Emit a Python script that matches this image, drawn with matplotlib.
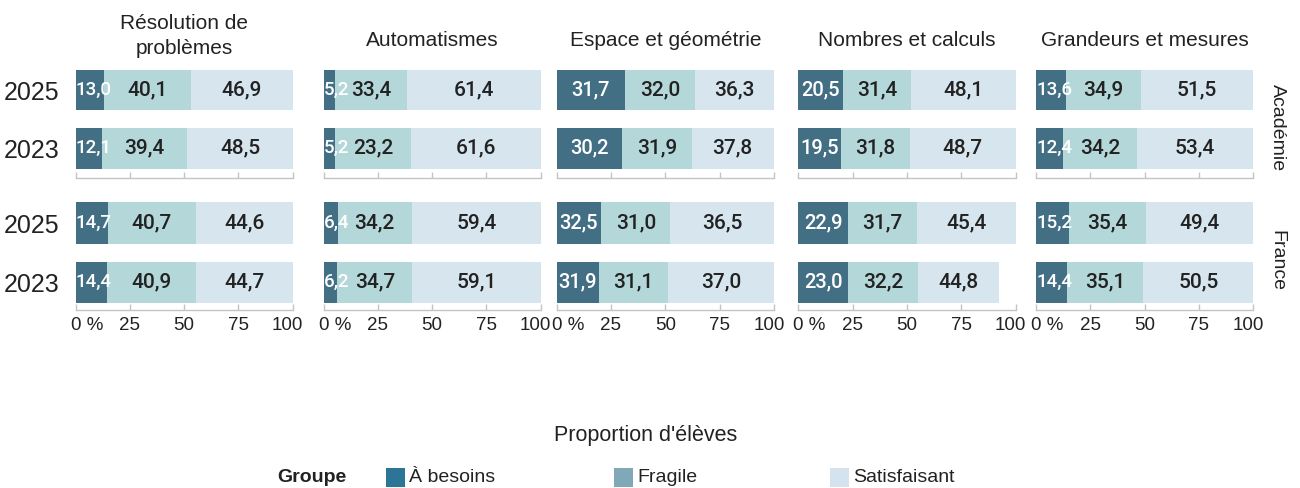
import matplotlib
matplotlib.use("Agg")
import matplotlib.pyplot as plt
import matplotlib.transforms as mtrans
from matplotlib import font_manager
from matplotlib.patches import Rectangle

# ---------------- data ----------------
themes = ["Résolution de\nproblèmes", "Automatismes", "Espace et géométrie",
          "Nombres et calculs", "Grandeurs et mesures"]
years = ["2025", "2023"]
scopes = ["Académie", "France"]
groups = ["À besoins", "Fragile", "Satisfaisant"]
x_ticks = [0, 25, 50, 75, 100]
x_tick_labels = ["0 %", "25", "50", "75", "100"]

# printed values (labels)
acad_2025_besoins = [13.0, 5.2, 31.7, 20.5, 13.6]
acad_2025_fragile = [40.1, 33.4, 32.0, 31.4, 34.9]
acad_2025_satisf = [46.9, 61.4, 36.3, 48.1, 51.5]
acad_2023_besoins = [12.1, 5.2, 30.2, 19.5, 12.4]
acad_2023_fragile = [39.4, 23.2, 31.9, 31.8, 34.2]
acad_2023_satisf = [48.5, 61.6, 37.8, 48.7, 53.4]
fr_2025_besoins = [14.7, 6.4, 32.5, 22.9, 15.2]
fr_2025_fragile = [40.7, 34.2, 31.0, 31.7, 35.4]
fr_2025_satisf = [44.6, 59.4, 36.5, 45.4, 49.4]
fr_2023_besoins = [14.4, 6.2, 31.9, 23.0, 14.4]
fr_2023_fragile = [40.9, 34.7, 31.1, 32.2, 35.1]
fr_2023_satisf = [44.7, 59.1, 37.0, 44.8, 50.5]

# bar lengths as drawn in the picture (a few differ from the printed values)
acad_2025_besoins_bar = [13.0, 5.2, 31.7, 20.5, 13.6]
acad_2025_fragile_bar = [40.1, 33.4, 32.0, 31.4, 34.9]
acad_2025_satisf_bar = [46.9, 61.4, 36.3, 48.1, 51.5]
acad_2023_besoins_bar = [12.1, 5.2, 30.2, 19.5, 12.4]
acad_2023_fragile_bar = [39.4, 35.0, 31.9, 31.8, 34.2]
acad_2023_satisf_bar = [48.5, 59.8, 37.8, 48.7, 53.4]
fr_2025_besoins_bar = [14.7, 6.4, 20.6, 22.9, 15.2]
fr_2025_fragile_bar = [40.7, 34.2, 31.7, 31.7, 35.4]
fr_2025_satisf_bar = [44.6, 59.4, 47.7, 45.4, 49.4]
fr_2023_besoins_bar = [14.4, 6.2, 19.6, 23.0, 14.4]
fr_2023_fragile_bar = [40.9, 34.7, 31.8, 32.2, 35.1]
fr_2023_satisf_bar = [44.7, 59.1, 48.6, 37.0, 50.5]

# ---------------- style ----------------
installed = {f.name for f in font_manager.fontManager.ttflist}
BASE = "Liberation Sans" if "Liberation Sans" in installed else "DejaVu Sans"
VALFONT = "Roboto" if "Roboto" in installed else BASE
plt.rcParams["font.family"] = [BASE, "DejaVu Sans"]

bar_colors = ["#436f85", "#b4d7d9", "#d7e5ee"]
legend_colors = ["#2c7596", "#80a8b6", "#d5e3ee"]
text_dark = "#222222"
axis_grey = "#c4c4c4"

W, H = 1300, 488
fig = plt.figure(figsize=(W / 100, H / 100), dpi=100)


def rect(x0, x1, ytop, ybot):
    return [x0 / W, 1 - ybot / H, (x1 - x0) / W, (ybot - ytop) / H]


panel_x = [(75.7, 292.7), (323.7, 540.7), (556.5, 774.0), (798.3, 1015.7), (1036.0, 1253.0)]
row_y = [(60.4, 178.0, 0.51), (195.3, 310.0, 0.47)]

rows_vals = [
    [(acad_2025_besoins, acad_2025_fragile, acad_2025_satisf),
     (acad_2023_besoins, acad_2023_fragile, acad_2023_satisf)],
    [(fr_2025_besoins, fr_2025_fragile, fr_2025_satisf),
     (fr_2023_besoins, fr_2023_fragile, fr_2023_satisf)],
]
rows_bars = [
    [(acad_2025_besoins_bar, acad_2025_fragile_bar, acad_2025_satisf_bar),
     (acad_2023_besoins_bar, acad_2023_fragile_bar, acad_2023_satisf_bar)],
    [(fr_2025_besoins_bar, fr_2025_fragile_bar, fr_2025_satisf_bar),
     (fr_2023_besoins_bar, fr_2023_fragile_bar, fr_2023_satisf_bar)],
]

year_pos = [1, 0]

for r, (ytop, ybot, m) in enumerate(row_y):
    for p, (x0, x1) in enumerate(panel_x):
        ax = fig.add_axes(rect(x0, x1, ytop, ybot))
        for k, yr in enumerate(years):
            vals = rows_vals[r][k]
            bars = rows_bars[r][k]
            left = 0.0
            for g in range(3):
                w = bars[g][p]
                ax.barh(year_pos[k], w, left=left, height=0.70,
                        color=bar_colors[g], linewidth=0)
                lab = f"{vals[g][p]:.1f}".replace(".", ",")
                if g == 0:
                    if w < 17:
                        ax.text(left + 0.1, year_pos[k], lab, ha="left", va="center",
                                color="white", fontsize=13.5, family=[VALFONT, BASE],
                                fontweight="medium")
                    else:
                        ax.text(left + w / 2, year_pos[k], lab, ha="center", va="center",
                                color="white", fontsize=14.5, family=[VALFONT, BASE],
                                fontweight="medium")
                else:
                    ax.text(left + w / 2, year_pos[k], lab, ha="center", va="center",
                            color=text_dark, fontsize=15, family=[VALFONT, BASE],
                            fontweight="medium")
                left += w
        ax.set_xlim(0, 100)
        ax.set_ylim(-m, 1 + m)
        for s in ("top", "left", "right"):
            ax.spines[s].set_visible(False)
        ax.spines["bottom"].set_color(axis_grey)
        ax.spines["bottom"].set_linewidth(1.0)
        ax.set_xticks(x_ticks)
        ax.tick_params(axis="x", direction="in", length=4, color=axis_grey,
                       width=1.0, labelsize=13.5, labelcolor=text_dark, pad=5)
        if r == 1:
            ax.set_xticklabels(x_tick_labels)
            tl = ax.get_xticklabels()
            tl[0].set_horizontalalignment("left")
            tl[0].set_transform(tl[0].get_transform() +
                                mtrans.ScaledTranslation(-5 / 100, 0, fig.dpi_scale_trans))
            tl[-1].set_transform(tl[-1].get_transform() +
                                 mtrans.ScaledTranslation(-5 / 100, 0, fig.dpi_scale_trans))
        else:
            ax.set_xticklabels([])
        if p == 0:
            ax.set_yticks(year_pos)
            ax.set_yticklabels(years, fontsize=18, color=text_dark)
            ax.tick_params(axis="y", length=0, pad=12)
        else:
            ax.set_yticks([])
        if r == 0:
            cx = (x0 + x1) / 2 / W
            if "\n" in themes[p]:
                fig.text(cx, 1 - 36 / H, themes[p], ha="center", va="center",
                         fontsize=15, color=text_dark, linespacing=1.45)
            else:
                fig.text(cx, 1 - 40 / H, themes[p], ha="center", va="center",
                         fontsize=15, color=text_dark)

# facet strip labels on the right
fig.text(1277 / W, 1 - 127.5 / H, scopes[0], rotation=270, ha="center", va="center",
         fontsize=14, color=text_dark)
fig.text(1277 / W, 1 - 261 / H, scopes[1], rotation=270, ha="center", va="center",
         fontsize=14, color=text_dark)

# x axis title
fig.text(645.5 / W, 1 - 436 / H, "Proportion d'élèves", ha="center", va="center",
         fontsize=15.5, color=text_dark)

# legend
fig.text(277 / W, 1 - 477 / H, "Groupe", ha="left", va="center", fontsize=14,
         fontweight="bold", color=text_dark)
leg_x = [386, 614, 830]
for i, g in enumerate(groups):
    fig.add_artist(Rectangle((leg_x[i] / W, 1 - 487 / H), 19 / W, 19 / H,
                             transform=fig.transFigure, color=legend_colors[i], linewidth=0))
    fig.text((leg_x[i] + 23) / W, 1 - 477 / H, g, ha="left", va="center",
             fontsize=14, color=text_dark)

fig.savefig("out.png", dpi=100)
